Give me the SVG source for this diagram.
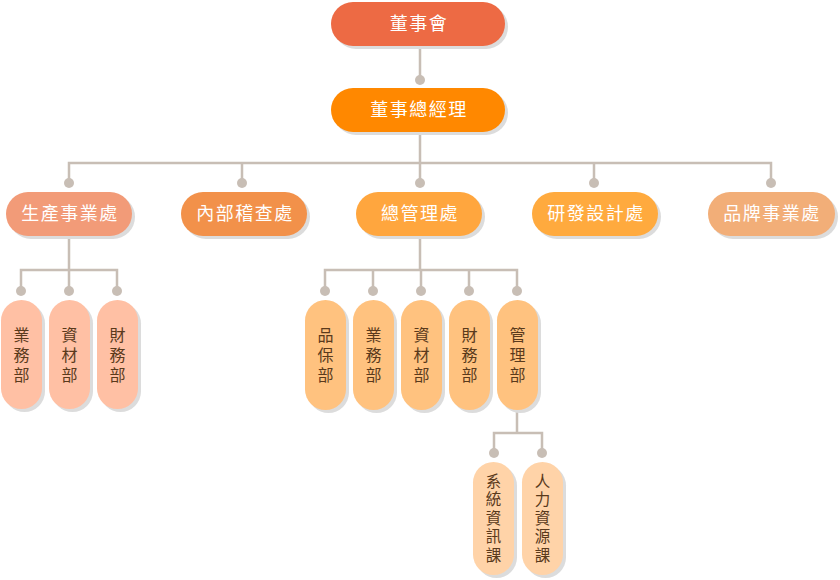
<svg xmlns="http://www.w3.org/2000/svg" width="840" height="580" viewBox="0 0 840 580">
<style>
.bg{fill:#ffffff}
.sh{fill:#dcdcdc}
.ln{stroke:#c8beb5;stroke-width:2.5;fill:none}
.dot{fill:#c8beb5}
.t1{font-family:"Noto Sans CJK TC","Noto Sans CJK SC",sans-serif;font-size:18px;fill:#ffffff;text-anchor:middle;letter-spacing:1.5px}
.tv{font-family:"Noto Sans CJK TC","Noto Sans CJK SC",sans-serif;font-size:16px;fill:#5a3a1c;text-anchor:middle;writing-mode:vertical-rl;letter-spacing:4px}
.tv5{font-family:"Noto Sans CJK TC","Noto Sans CJK SC",sans-serif;font-size:15.5px;fill:#5a3a1c;text-anchor:middle;writing-mode:vertical-rl;letter-spacing:3px}
</style>
<rect class="bg" x="0" y="0" width="840" height="580"/>
<g id="connectors">
<path class="ln" d="M420,46V80M420,132V163M69,183V163H771V183M242,163V183M594,163V183M420,163V183"/>
<path class="ln" d="M69,236V270M21,290V270H117V290M69,270V290"/>
<path class="ln" d="M420,236V270M325,290V270H517V290M373,270V290M421,270V290M469,270V290"/>
<path class="ln" d="M517,410V433M494,453V433H542V453"/>
<g class="dot">
<circle cx="420" cy="80" r="5"/>
<circle cx="69" cy="183" r="5"/><circle cx="242" cy="183" r="5"/><circle cx="420" cy="183" r="5"/><circle cx="594" cy="183" r="5"/><circle cx="771" cy="183" r="5"/>
<circle cx="21" cy="291" r="5"/><circle cx="69" cy="291" r="5"/><circle cx="117" cy="291" r="5"/>
<circle cx="325" cy="291" r="5"/><circle cx="373" cy="291" r="5"/><circle cx="421" cy="291" r="5"/><circle cx="469" cy="291" r="5"/><circle cx="517" cy="291" r="5"/>
<circle cx="494" cy="453" r="5"/><circle cx="542" cy="453" r="5"/>
</g>
</g>
<g id="n-board">
<rect class="sh" x="334" y="5" width="174" height="44" rx="22"/>
<rect x="331" y="2" width="174" height="44" rx="22" fill="#ed6a44"/>
<text class="t1" x="419" y="30">董事會</text>
</g>
<g id="n-gm">
<rect class="sh" x="334" y="91" width="174" height="44" rx="22"/>
<rect x="331" y="88" width="174" height="44" rx="22" fill="#ff8800"/>
<text class="t1" x="419" y="116">董事總經理</text>
</g>
<g id="n-prod">
<rect class="sh" x="9" y="195" width="126" height="44" rx="22"/>
<rect x="6" y="192" width="126" height="44" rx="22" fill="#f29b78"/>
<text class="t1" x="70" y="220">生產事業處</text>
</g>
<g id="n-audit">
<rect class="sh" x="184" y="195" width="126" height="44" rx="22"/>
<rect x="181" y="192" width="126" height="44" rx="22" fill="#f2914a"/>
<text class="t1" x="245" y="220">內部稽查處</text>
</g>
<g id="n-admin">
<rect class="sh" x="359" y="195" width="126" height="44" rx="22"/>
<rect x="356" y="192" width="126" height="44" rx="22" fill="#ffa63e"/>
<text class="t1" x="420" y="220">總管理處</text>
</g>
<g id="n-rd">
<rect class="sh" x="535" y="195" width="126" height="44" rx="22"/>
<rect x="532" y="192" width="126" height="44" rx="22" fill="#ffaa3e"/>
<text class="t1" x="596" y="220">研發設計處</text>
</g>
<g id="n-brand">
<rect class="sh" x="711" y="195" width="127" height="44" rx="22"/>
<rect x="708" y="192" width="127" height="44" rx="22" fill="#f2ae78"/>
<text class="t1" x="772" y="220">品牌事業處</text>
</g>
<g id="p-sales1">
<rect class="sh" x="4" y="303" width="41" height="109" rx="20.5"/>
<rect x="1" y="300" width="41" height="109" rx="20.5" fill="#ffc0a4"/>
<text class="tv" x="21.5" y="356.5">業務部</text>
</g>
<g id="p-mat1">
<rect class="sh" x="52" y="303" width="41" height="109" rx="20.5"/>
<rect x="49" y="300" width="41" height="109" rx="20.5" fill="#ffc0a4"/>
<text class="tv" x="69.5" y="356.5">資材部</text>
</g>
<g id="p-fin1">
<rect class="sh" x="100" y="303" width="41" height="109" rx="20.5"/>
<rect x="97" y="300" width="41" height="109" rx="20.5" fill="#ffc0a4"/>
<text class="tv" x="117.5" y="356.5">財務部</text>
</g>
<g id="p-qa">
<rect class="sh" x="308" y="303" width="41" height="110" rx="20.5"/>
<rect x="305" y="300" width="41" height="110" rx="20.5" fill="#ffc27f"/>
<text class="tv" x="325.5" y="356.5">品保部</text>
</g>
<g id="p-sales2">
<rect class="sh" x="356" y="303" width="41" height="110" rx="20.5"/>
<rect x="353" y="300" width="41" height="110" rx="20.5" fill="#ffc27f"/>
<text class="tv" x="373.5" y="356.5">業務部</text>
</g>
<g id="p-mat2">
<rect class="sh" x="404" y="303" width="41" height="110" rx="20.5"/>
<rect x="401" y="300" width="41" height="110" rx="20.5" fill="#ffc27f"/>
<text class="tv" x="421.5" y="356.5">資材部</text>
</g>
<g id="p-fin2">
<rect class="sh" x="452" y="303" width="41" height="110" rx="20.5"/>
<rect x="449" y="300" width="41" height="110" rx="20.5" fill="#ffc27f"/>
<text class="tv" x="469.5" y="356.5">財務部</text>
</g>
<g id="p-mgmt">
<rect class="sh" x="500" y="303" width="41" height="110" rx="20.5"/>
<rect x="497" y="300" width="41" height="110" rx="20.5" fill="#ffc27f"/>
<text class="tv" x="517.5" y="356.5">管理部</text>
</g>
<g id="p-it">
<rect class="sh" x="476" y="465" width="41" height="113" rx="20.5"/>
<rect x="473" y="462" width="41" height="113" rx="20.5" fill="#ffd3a8"/>
<text class="tv5" x="493.5" y="519.5">系統資訊課</text>
</g>
<g id="p-hr">
<rect class="sh" x="525" y="465" width="41" height="113" rx="20.5"/>
<rect x="522" y="462" width="41" height="113" rx="20.5" fill="#ffd3a8"/>
<text class="tv5" x="542.5" y="519.5">人力資源課</text>
</g>
</svg>
